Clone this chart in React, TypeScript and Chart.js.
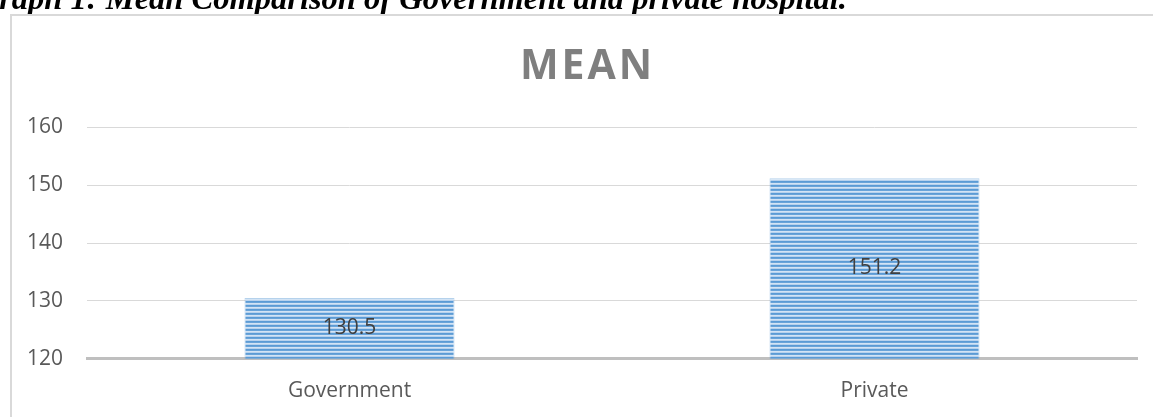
import React, { useEffect, useRef } from "react";
import { Chart, registerables } from "chart.js";

Chart.register(...registerables);

// ---- data ----
const categories = ["Government", "Private"];
const meanValues = [130.5, 151.2];
const yAxisMin = 120;
const yAxisMax = 160;
const yAxisStep = 10;
const chartTitle = "MEAN";
const captionText = "Graph 1: Mean Comparison of Government and private hospital.";

const FONT = "'Open Sans', 'DejaVu Sans', sans-serif";
const PAD_RIGHT = 26;

function makeStripePattern(ctx: CanvasRenderingContext2D) {
  const c = document.createElement("canvas");
  c.width = 8;
  c.height = 4;
  const g = c.getContext("2d")!;
  const rows = ["#b7d2ee", "#5b9bd5", "#6aa4d9", "#d3e4f5"];
  rows.forEach((col, i) => {
    g.fillStyle = col;
    g.fillRect(0, i, 8, 1);
  });
  return ctx.createPattern(c, "repeat");
}

// value labels centred inside the visible part of each bar
const barLabelsPlugin = {
  id: "barLabels",
  afterDatasetsDraw(chart: any) {
    const ctx: CanvasRenderingContext2D = chart.ctx;
    const meta = chart.getDatasetMeta(0);
    const values = chart.data.datasets[0].data as number[];
    const bottom = chart.chartArea.bottom;
    ctx.save();
    ctx.font = `21px ${FONT}`;
    ctx.fillStyle = "#404040";
    ctx.textAlign = "center";
    ctx.textBaseline = "middle";
    meta.data.forEach((bar: any, i: number) => {
      const base = Math.min(bar.base, bottom);
      ctx.fillText(String(values[i]), bar.x, (bar.y + base) / 2);
    });
    ctx.restore();
  },
};

// letter-spaced title, centred on the whole chart box
const titleSpacingPlugin = {
  id: "titleSpacing",
  afterInit(chart: any) {
    const tb = chart.titleBlock;
    if (!tb || tb.__patched) return;
    const orig = tb.draw.bind(tb);
    tb.draw = function (area: any) {
      const ctx = chart.ctx;
      ctx.save();
      ctx.translate(PAD_RIGHT / 2, 0);
      if ("letterSpacing" in ctx) (ctx as any).letterSpacing = "3px";
      orig(area);
      ctx.restore();
    };
    tb.__patched = true;
  },
};

export default function App() {
  const canvasRef = useRef<HTMLCanvasElement | null>(null);

  useEffect(() => {
    const canvas = canvasRef.current;
    if (!canvas) return;
    const ctx = canvas.getContext("2d")!;
    const pattern = makeStripePattern(ctx);

    const chart = new Chart(ctx, {
      type: "bar",
      data: {
        labels: categories,
        datasets: [
          {
            label: chartTitle,
            data: meanValues,
            backgroundColor: pattern as any,
            borderColor: "rgba(91,155,213,0.45)",
            borderWidth: 1,
            barPercentage: 0.4,
            categoryPercentage: 1,
          },
        ],
      },
      options: {
        responsive: false,
        animation: false,
        events: [],
        layout: { padding: { left: 0, right: PAD_RIGHT, top: 0, bottom: 20 } },
        plugins: {
          legend: { display: false },
          tooltip: { enabled: false },
          title: {
            display: true,
            text: chartTitle,
            color: "#7f7f7f",
            font: { family: FONT, size: 41, weight: "bold", lineHeight: 1.2 },
            padding: { top: 27, bottom: 35 },
          },
        },
        scales: {
          x: {
            grid: { display: false },
            border: { display: true, color: "#bfbfbf", width: 3 },
            ticks: {
              color: "#595959",
              font: { family: FONT, size: 21 },
              padding: 12,
            },
          },
          y: {
            min: yAxisMin,
            max: yAxisMax,
            border: { display: false },
            grid: {
              drawTicks: false,
              lineWidth: 1,
              color: (c: any) =>
                c.tick && c.tick.value === yAxisMin ? "rgba(0,0,0,0)" : "#d9d9d9",
            },
            ticks: {
              stepSize: yAxisStep,
              color: "#595959",
              font: { family: FONT, size: 21 },
              padding: 24,
            },
            afterFit: (scale: any) => {
              scale.width = 75;
            },
          },
        },
      },
      plugins: [barLabelsPlugin, titleSpacingPlugin],
    });

    return () => chart.destroy();
  }, []);

  return (
    <div>
      <div
        style={{
          position: "fixed",
          top: -18,
          right: 306,
          whiteSpace: "nowrap",
          fontFamily: "'Liberation Serif', 'Times New Roman', serif",
          fontWeight: "bold",
          fontStyle: "italic",
          fontSize: 32.5,
          lineHeight: 1,
          color: "#000",
        }}
      >
        {captionText}
      </div>
      <div
        style={{
          position: "fixed",
          left: 10,
          top: 14,
          width: 1200,
          height: 500,
          borderLeft: "2px solid #d9d9d9",
          borderTop: "2px solid #d9d9d9",
          background: "#fff",
        }}
      >
        <canvas
          ref={canvasRef}
          width={1151}
          height={420}
          style={{ position: "absolute", left: 0, top: 0, width: 1151, height: 420 }}
        />
      </div>
    </div>
  );
}
